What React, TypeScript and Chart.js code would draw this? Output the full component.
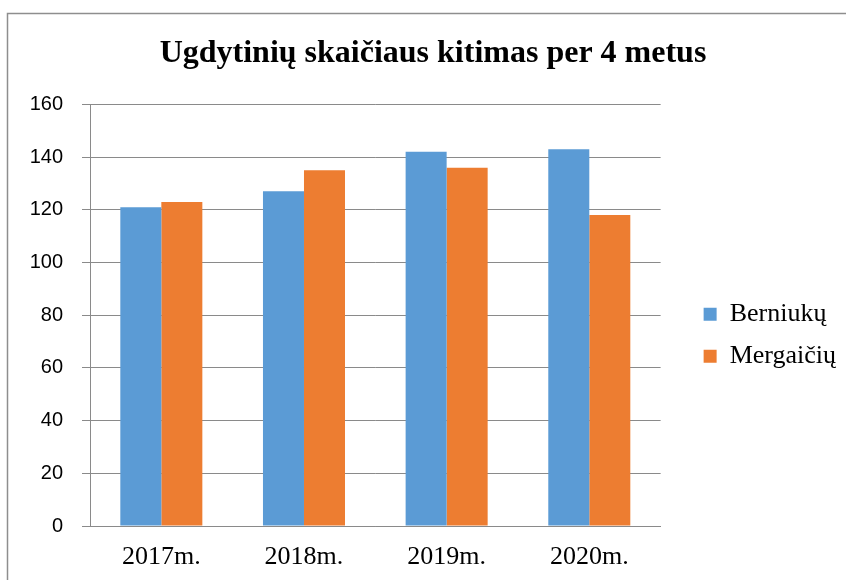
import React, { useEffect, useRef } from "react";
import { Chart, registerables } from "chart.js";

Chart.register(...registerables);

const categories = ["2017m.", "2018m.", "2019m.", "2020m."];
const boys = [121, 127, 142, 143];
const girls = [123, 135, 136, 118];
const seriesNames = ["Berniukų", "Mergaičių"];
const titleText = "Ugdytinių skaičiaus kitimas per 4 metus";

const SERIF = "'Liberation Serif', 'Times New Roman', serif";
const SANS = "'Liberation Sans', Arial, sans-serif";

const frame = {
  id: "frame",
  beforeDraw(chart: any) {
    const ctx = chart.ctx;
    ctx.save();
    ctx.fillStyle = "#ffffff";
    ctx.fillRect(0, 0, chart.width, chart.height);
    ctx.strokeStyle = "#8e8e8e";
    ctx.lineWidth = 1.5;
    ctx.beginPath();
    ctx.moveTo(7.5, chart.height);
    ctx.lineTo(7.5, 13.5);
    ctx.lineTo(chart.width, 13.5);
    ctx.stroke();
    ctx.restore();
  },
};

export default function App() {
  const ref = useRef<HTMLCanvasElement | null>(null);
  useEffect(() => {
    if (!ref.current) return;
    const chart = new Chart(ref.current, {
      type: "bar",
      data: {
        labels: categories,
        datasets: [
          { label: seriesNames[0], data: boys, backgroundColor: "#5B9BD5" },
          { label: seriesNames[1], data: girls, backgroundColor: "#ED7D31" },
        ],
      },
      options: {
        responsive: false,
        animation: false,
        layout: { padding: { left: 20, right: 0, top: 0, bottom: 0 } },
        datasets: { bar: { categoryPercentage: 0.575, barPercentage: 1 } },
        plugins: {
          title: {
            display: true,
            text: titleText,
            color: "#000",
            font: { family: SERIF, size: 32, weight: "bold" },
            padding: { top: 35, bottom: 31 },
          },
          legend: {
            position: "right",
            fullSize: false,
            maxWidth: 260,
            title: { display: true, text: " ", font: { size: 25, lineHeight: 1.2 }, padding: { top: 10, bottom: 0 } },
            labels: {
              color: "#000",
              font: { family: SERIF, size: 26 },
              boxWidth: 13,
              boxHeight: 13,
              padding: 16,
            },
          },
          tooltip: { enabled: false },
        },
        scales: {
          x: {
            grid: { display: false, drawTicks: false },
            border: { display: true, color: "#8a8a8a", width: 1 },
            ticks: { color: "#000", font: { family: SERIF, size: 26 }, padding: 16, maxRotation: 0 },
            afterFit(s: any) {
              s.height = 54;
            },
          },
          y: {
            min: 0,
            max: 160,
            ticks: { stepSize: 20, color: "#000", font: { family: SANS, size: 20 }, padding: 19 },
            grid: { color: "#8a8a8a", lineWidth: 1, tickLength: 8, drawTicks: true },
            border: { display: true, color: "#8a8a8a", width: 1 },
            afterFit(s: any) {
              s.width = 70;
            },
          },
          yR: {
            position: "right",
            display: true,
            grid: { display: false, drawTicks: false },
            border: { display: false },
            ticks: { display: false },
            afterFit(s: any) {
              s.width = 27;
            },
          },
        },
      },
      plugins: [frame],
    } as any);
    return () => chart.destroy();
  }, []);
  return (
    <canvas
      ref={ref}
      width={846}
      height={580}
      style={{ position: "absolute", left: 0, top: 0, display: "block" }}
    />
  );
}
